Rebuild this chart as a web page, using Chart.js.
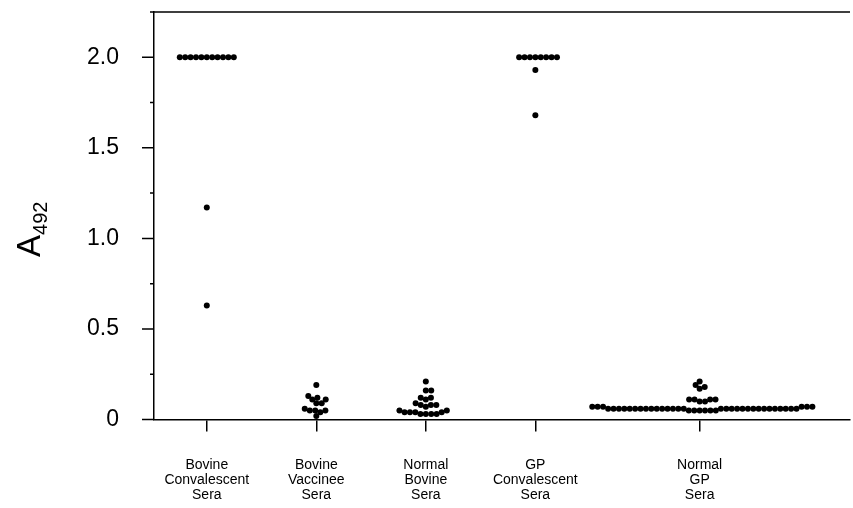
<!DOCTYPE html>
<html lang="en">
<head>
    <meta charset="UTF-8">
    <title>A492 by serum group</title>
    <style>
        body {
            margin: 0;
            padding: 0;
            background-color: #ffffff;
        }

        .chart-box {
            width: 853px;
            height: 508px;
        }
    </style>
    <script src="https://cdn.jsdelivr.net/npm/chart.js"></script>
</head>
<body>
    <div class="chart-box">
        <canvas id="serumChart" width="853" height="508"></canvas>
    </div>

    <script>
        // groups and their tick labels
        const categories = ['Bovine Convalescent Sera', 'Bovine Vaccinee Sera', 'Normal Bovine Sera', 'GP Convalescent Sera', 'Normal GP Sera'];
        const tickLabels = [
            ['Bovine', 'Convalescent', 'Sera'],
            ['Bovine', 'Vaccinee', 'Sera'],
            ['Normal', 'Bovine', 'Sera'],
            ['GP', 'Convalescent', 'Sera'],
            ['Normal', 'GP', 'Sera']
        ];
        const yTickLabels = ['0', '0.5', '1.0', '1.5', '2.0'];

        // A492 readings per group
        const bovineConvalescent = [2.0, 2.0, 2.0, 2.0, 2.0, 2.0, 2.0, 2.0, 2.0, 2.0, 2.0, 1.17, 0.63];
        const bovineVaccinee = [0.19, 0.13, 0.12, 0.11, 0.11, 0.09, 0.09, 0.06, 0.05, 0.05, 0.05, 0.04, 0.02];
        const normalBovine = [0.21, 0.16, 0.16, 0.12, 0.12, 0.11, 0.09, 0.08, 0.08, 0.07, 0.08,
                              0.05, 0.05, 0.04, 0.04, 0.03, 0.03, 0.03, 0.03, 0.04, 0.04];
        const gpConvalescent = [2.0, 2.0, 2.0, 2.0, 2.0, 2.0, 2.0, 2.0, 1.93, 1.68];
        const normalGP = [0.05, 0.05, 0.05, 0.05, 0.05, 0.05,
                          0.06, 0.06, 0.06, 0.06, 0.06, 0.06, 0.06, 0.06, 0.06, 0.06,
                          0.06, 0.06, 0.06, 0.06, 0.06, 0.06, 0.06, 0.06, 0.06, 0.06,
                          0.06, 0.06, 0.06, 0.06, 0.06, 0.06, 0.06, 0.06, 0.06, 0.06,
                          0.07, 0.07, 0.07, 0.07, 0.07, 0.07,
                          0.10, 0.10, 0.11, 0.11, 0.11, 0.11,
                          0.17, 0.18, 0.19, 0.21];

        const series = [bovineConvalescent, bovineVaccinee, normalBovine, gpConvalescent, normalGP];

        // where each group sits on the numeric x axis (last group is set further out)
        const catX = [1, 2, 3, 4, 5.5];

        // spread points of one group sideways so dots don't overlap (simple beeswarm, in pixels)
        function swarm(values, cx, xs, ys, d) {
            const px0 = xs.getPixelForValue(cx);
            const order = values.map((v, i) => i).sort((a, b) => values[a] - values[b]);
            const placed = [];
            const out = new Array(values.length);
            order.forEach(i => {
                const py = ys.getPixelForValue(values[i]);
                const cands = [0];
                placed.forEach(p => {
                    const dy = py - p.y;
                    if (Math.abs(dy) < d) {
                        const dx = Math.sqrt(d * d - dy * dy);
                        cands.push(p.x + dx, p.x - dx);
                    }
                });
                cands.sort((a, b) => Math.abs(a) - Math.abs(b));
                const best = cands.find(c => placed.every(p => (p.x - c) ** 2 + (p.y - py) ** 2 >= d * d - 0.01));
                placed.push({ x: best, y: py });
                out[i] = { x: xs.getValueForPixel(px0 + best), y: values[i] };
            });
            return out;
        }

        // top frame line, short/long y ticks and the A492 title
        const framePlugin = {
            id: 'frame',
            afterDraw(chart) {
                const { ctx, chartArea: a, scales: { y } } = chart;
                ctx.save();
                ctx.strokeStyle = '#000';
                ctx.lineWidth = 1.5;
                ctx.beginPath();
                ctx.moveTo(a.left, a.top);
                ctx.lineTo(a.right, a.top);
                y.ticks.forEach(t => {
                    const py = y.getPixelForValue(t.value);
                    const len = (Math.round(t.value * 4) % 2 === 0) ? 12 : 4;
                    ctx.moveTo(a.left - len, py);
                    ctx.lineTo(a.left, py);
                });
                ctx.stroke();

                ctx.fillStyle = '#000';
                ctx.translate(40, 257);
                ctx.rotate(-Math.PI / 2);
                ctx.textAlign = 'left';
                ctx.textBaseline = 'alphabetic';
                ctx.font = '33px "Liberation Sans", Arial, sans-serif';
                ctx.fillText('A', 0, 0);
                const w = ctx.measureText('A').width;
                ctx.font = '20px "Liberation Sans", Arial, sans-serif';
                ctx.fillText('492', w, 7);
                ctx.restore();
            }
        };

        const datasets = series.map((vals, i) => ({
            label: categories[i],
            data: vals.map(v => ({ x: catX[i], y: v })),
            backgroundColor: '#000',
            borderWidth: 0,
            pointRadius: 3,
            pointHoverRadius: 3
        }));

        const chart = new Chart(document.getElementById('serumChart').getContext('2d'), {
            type: 'scatter',
            data: { datasets: datasets },
            options: {
                responsive: false,
                animation: false,
                layout: { padding: { top: 12, right: 0, left: 0, bottom: 0 } },
                plugins: {
                    legend: { display: false },
                    tooltip: { enabled: false }
                },
                scales: {
                    x: {
                        type: 'linear',
                        min: 0.518,
                        max: 6.873,
                        afterBuildTicks: scale => {
                            scale.ticks = catX.map(v => ({ value: v }));
                        },
                        afterFit: scale => {
                            scale.height = 88.5;
                            scale.paddingLeft = 0;
                            scale.paddingRight = 0;
                        },
                        border: { display: true, color: '#000', width: 1.5 },
                        grid: {
                            display: true,
                            drawOnChartArea: false,
                            drawTicks: true,
                            tickLength: 12,
                            color: '#000',
                            lineWidth: 1.5
                        },
                        ticks: {
                            autoSkip: false,
                            maxRotation: 0,
                            padding: 26,
                            color: '#000',
                            font: { family: '"Liberation Sans", Arial, sans-serif', size: 14, lineHeight: 1.07 },
                            callback: (value, index) => tickLabels[index]
                        }
                    },
                    y: {
                        min: 0,
                        max: 2.25,
                        afterFit: scale => {
                            scale.width = 154;
                            scale.paddingTop = 0;
                            scale.paddingBottom = 0;
                        },
                        border: { display: true, color: '#000', width: 1.5 },
                        grid: { display: false, drawTicks: false },
                        ticks: {
                            stepSize: 0.25,
                            autoSkip: false,
                            padding: 35,
                            color: '#000',
                            font: { family: '"Liberation Sans", Arial, sans-serif', size: 23 },
                            callback: v => {
                                const k = Math.round(v * 4);
                                return k % 2 === 0 ? yTickLabels[k / 2] : '';
                            }
                        }
                    }
                }
            },
            plugins: [framePlugin]
        });

        // lay the dots out once the scales exist
        const xs = chart.scales.x, ys = chart.scales.y;
        chart.data.datasets.forEach((ds, i) => {
            ds.data = swarm(series[i], catX[i], xs, ys, 5.4);
        });
        chart.update('none');
    </script>
</body>
</html>
